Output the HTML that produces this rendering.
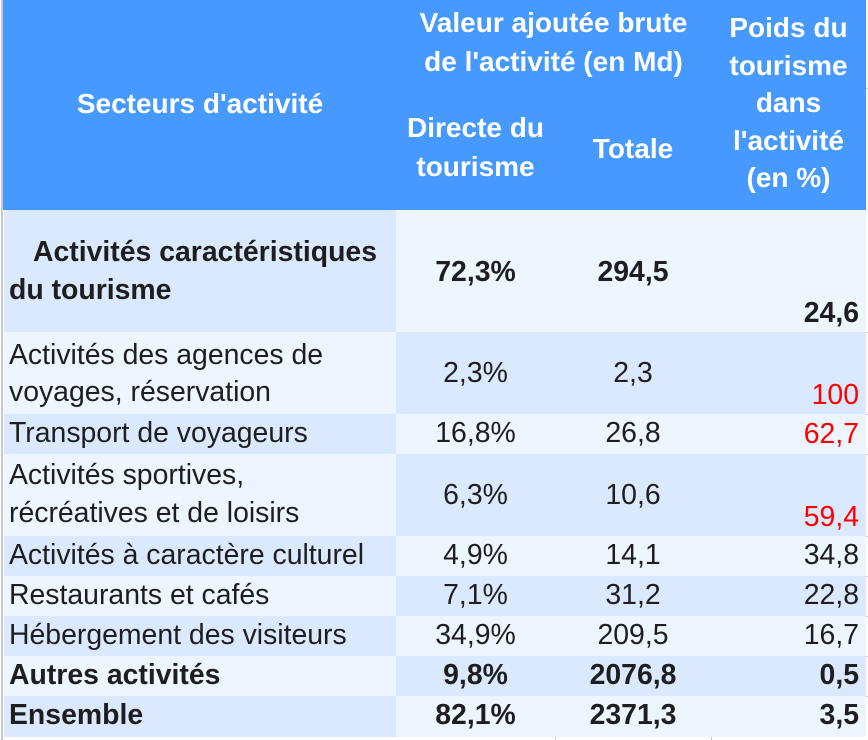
<!DOCTYPE html>
<html><head><meta charset="utf-8">
<style>
html,body{margin:0;padding:0;background:#fff;}
body{width:868px;height:740px;position:relative;overflow:hidden;font-family:"Liberation Sans",Arial,sans-serif;}
.c{position:absolute;}
.d{background:#dbe9fe;}
.l{background:#edf5ff;}
.t{position:absolute;font-size:28.4px;line-height:28.4px;color:#1e1e1e;white-space:nowrap;}
.b{font-weight:bold;}
.h{position:absolute;font-size:28px;line-height:28px;color:#fff;font-weight:bold;white-space:nowrap;text-align:center;}
.ctr{text-align:center;}
.r{text-align:right;}
.red{color:#ff0000;}
.g{position:absolute;background:#c8c8c8;}
</style></head><body>
<!-- gridlines -->
<div class="g" style="left:1px;top:0;width:2px;height:740px;"></div>
<div class="g" style="left:866px;top:88px;width:2px;height:1px;"></div>
<div class="g" style="left:866px;top:332px;width:2px;height:1px;"></div>
<div class="g" style="left:866px;top:414px;width:2px;height:1px;"></div>
<div class="g" style="left:866px;top:454px;width:2px;height:1px;"></div>
<div class="g" style="left:866px;top:536px;width:2px;height:1px;"></div>
<div class="g" style="left:866px;top:576px;width:2px;height:1px;"></div>
<div class="g" style="left:866px;top:616px;width:2px;height:1px;"></div>
<div class="g" style="left:866px;top:656px;width:2px;height:1px;"></div>
<div class="g" style="left:866px;top:696px;width:2px;height:1px;"></div>
<div class="g" style="left:555px;top:737px;width:1px;height:3px;"></div>
<div class="g" style="left:711px;top:737px;width:1px;height:3px;"></div>

<!-- header -->
<div class="c" style="left:3px;top:0;width:863px;height:210px;background:#4599ff;"></div>
<div class="h" style="left:4px;width:392px;top:90px;">Secteurs d'activité</div>
<div class="h" style="left:396px;width:315px;top:9px;">Valeur ajoutée brute</div>
<div class="h" style="left:396px;width:315px;top:48px;">de l'activité (en Md)</div>
<div class="h" style="left:396px;width:159px;top:114px;">Directe du</div>
<div class="h" style="left:396px;width:159px;top:153px;">tourisme</div>
<div class="h" style="left:555px;width:156px;top:135px;">Totale</div>
<div class="h" style="left:711px;width:155px;top:14px;">Poids du</div>
<div class="h" style="left:711px;width:155px;top:52px;">tourisme</div>
<div class="h" style="left:711px;width:155px;top:89px;">dans</div>
<div class="h" style="left:711px;width:155px;top:127px;">l'activité</div>
<div class="h" style="left:711px;width:155px;top:164px;">(en %)</div>

<!-- row backgrounds -->
<div class="c d" style="left:4px;top:210px;width:392px;height:122px;"></div>
<div class="c l" style="left:396px;top:210px;width:470px;height:122px;"></div>
<div class="c l" style="left:4px;top:332px;width:392px;height:82px;"></div>
<div class="c d" style="left:396px;top:332px;width:470px;height:82px;"></div>
<div class="c d" style="left:4px;top:414px;width:392px;height:40px;"></div>
<div class="c l" style="left:396px;top:414px;width:470px;height:40px;"></div>
<div class="c l" style="left:4px;top:454px;width:392px;height:82px;"></div>
<div class="c d" style="left:396px;top:454px;width:470px;height:82px;"></div>
<div class="c d" style="left:4px;top:536px;width:392px;height:40px;"></div>
<div class="c l" style="left:396px;top:536px;width:470px;height:40px;"></div>
<div class="c l" style="left:4px;top:576px;width:392px;height:40px;"></div>
<div class="c d" style="left:396px;top:576px;width:470px;height:40px;"></div>
<div class="c d" style="left:4px;top:616px;width:392px;height:40px;"></div>
<div class="c l" style="left:396px;top:616px;width:470px;height:40px;"></div>
<div class="c l" style="left:4px;top:656px;width:392px;height:40px;"></div>
<div class="c d" style="left:396px;top:656px;width:470px;height:40px;"></div>
<div class="c d" style="left:4px;top:696px;width:392px;height:41px;"></div>
<div class="c l" style="left:396px;top:696px;width:470px;height:41px;"></div>

<!-- row 1 -->
<div class="t b" style="left:33px;top:238px;">Activités caractéristiques</div>
<div class="t b" style="left:9px;top:276px;">du tourisme</div>
<div class="t b ctr" style="left:396px;width:159px;top:258px;">72,3%</div>
<div class="t b ctr" style="left:555px;width:156px;top:258px;">294,5</div>
<div class="t b r" style="left:711px;width:148px;top:299px;">24,6</div>

<!-- row 2 -->
<div class="t" style="left:9px;top:341px;">Activités des agences de</div>
<div class="t" style="left:9px;top:378px;">voyages, réservation</div>
<div class="t ctr" style="left:396px;width:159px;top:359px;">2,3%</div>
<div class="t ctr" style="left:555px;width:156px;top:359px;">2,3</div>
<div class="t r red" style="left:711px;width:148px;top:381px;">100</div>

<!-- row 3 -->
<div class="t" style="left:9px;top:419px;">Transport de voyageurs</div>
<div class="t ctr" style="left:396px;width:159px;top:419px;">16,8%</div>
<div class="t ctr" style="left:555px;width:156px;top:419px;">26,8</div>
<div class="t r red" style="left:711px;width:148px;top:420px;">62,7</div>

<!-- row 4 -->
<div class="t" style="left:9px;top:461px;">Activités sportives,</div>
<div class="t" style="left:9px;top:499px;">récréatives et de loisirs</div>
<div class="t ctr" style="left:396px;width:159px;top:481px;">6,3%</div>
<div class="t ctr" style="left:555px;width:156px;top:481px;">10,6</div>
<div class="t r red" style="left:711px;width:148px;top:503px;">59,4</div>

<!-- row 5 -->
<div class="t" style="left:9px;top:541px;">Activités à caractère culturel</div>
<div class="t ctr" style="left:396px;width:159px;top:541px;">4,9%</div>
<div class="t ctr" style="left:555px;width:156px;top:541px;">14,1</div>
<div class="t r" style="left:711px;width:148px;top:541px;">34,8</div>

<!-- row 6 -->
<div class="t" style="left:9px;top:581px;">Restaurants et cafés</div>
<div class="t ctr" style="left:396px;width:159px;top:581px;">7,1%</div>
<div class="t ctr" style="left:555px;width:156px;top:581px;">31,2</div>
<div class="t r" style="left:711px;width:148px;top:581px;">22,8</div>

<!-- row 7 -->
<div class="t" style="left:9px;top:621px;">Hébergement des visiteurs</div>
<div class="t ctr" style="left:396px;width:159px;top:621px;">34,9%</div>
<div class="t ctr" style="left:555px;width:156px;top:621px;">209,5</div>
<div class="t r" style="left:711px;width:148px;top:621px;">16,7</div>

<!-- row 8 -->
<div class="t b" style="left:9px;top:661px;">Autres activités</div>
<div class="t b ctr" style="left:396px;width:159px;top:661px;">9,8%</div>
<div class="t b ctr" style="left:555px;width:156px;top:661px;">2076,8</div>
<div class="t b r" style="left:711px;width:148px;top:661px;">0,5</div>

<!-- row 9 -->
<div class="t b" style="left:9px;top:701px;">Ensemble</div>
<div class="t b ctr" style="left:396px;width:159px;top:701px;">82,1%</div>
<div class="t b ctr" style="left:555px;width:156px;top:701px;">2371,3</div>
<div class="t b r" style="left:711px;width:148px;top:701px;">3,5</div>
</body></html>
